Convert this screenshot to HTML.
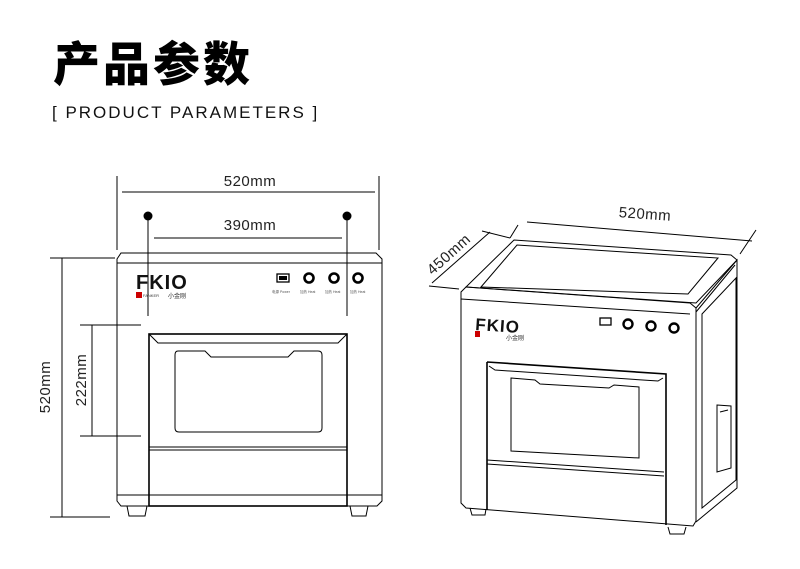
<!DOCTYPE html>
<html><head><meta charset="utf-8"><style>
html,body{margin:0;padding:0;background:#fff;width:800px;height:569px;overflow:hidden}
svg{display:block}
</style></head><body>
<svg width="800" height="569" viewBox="0 0 800 569" xmlns="http://www.w3.org/2000/svg">
<text x="53" y="81" font-family="Liberation Sans, Noto Sans CJK SC, sans-serif" font-size="47" font-weight="900" letter-spacing="3" fill="#000">产品参数</text>
<text x="52" y="118" font-family="Liberation Sans, sans-serif" font-size="17" letter-spacing="2" fill="#111">[ PRODUCT PARAMETERS ]</text>

<g stroke="#000" stroke-width="1" fill="none">
<!-- front dims -->
<line x1="117" y1="176" x2="117" y2="250"/><line x1="379" y1="176" x2="379" y2="250"/>
<line x1="122" y1="192" x2="375" y2="192"/>
<line x1="154" y1="238" x2="342" y2="238"/>
<line x1="148" y1="216" x2="148" y2="316"/><line x1="347" y1="216" x2="347" y2="316"/>
<line x1="62" y1="258" x2="62" y2="517"/><line x1="50" y1="258" x2="115" y2="258"/><line x1="50" y1="517" x2="110" y2="517"/>
<line x1="92" y1="325" x2="92" y2="436"/><line x1="80" y1="325" x2="141" y2="325"/><line x1="80" y1="436" x2="141" y2="436"/>
<!-- front body -->
<path d="M121 253 H376 L382 259 V501 L377 506 H121 L117 501 V259 Z"/>
<line x1="117" y1="263" x2="382" y2="263"/>
<line x1="117" y1="495" x2="382" y2="495"/>
<rect x="149" y="334" width="198" height="172" stroke-width="1.6"/>
<path d="M149 334 L158 343 H338 L347 334"/>
<line x1="149" y1="447" x2="347" y2="447"/>
<line x1="149" y1="450" x2="347" y2="450"/>
<path d="M178 351 H205 L211 357 H288 L294 351 H318 Q322 351 322 355 V428 Q322 432 318 432 H179 Q175 432 175 428 V355 Q175 351 178 351 Z"/>
<path d="M127 506 L129 516 H145 L147 506"/><path d="M350 506 L352 516 H366 L368 506"/>
<!-- 3D dims -->
<line x1="527" y1="222" x2="752" y2="241"/>
<line x1="518" y1="225" x2="510" y2="238"/>
<line x1="756" y1="230" x2="740" y2="254"/>
<line x1="432" y1="283" x2="490" y2="232"/>
<line x1="482" y1="231" x2="510" y2="238"/>
<line x1="429" y1="286" x2="459" y2="289"/>
<!-- 3D body -->
<path d="M466 287 L514 240 L731 255 L737 260 L696 303 Z"/>
<path d="M481 287 L517 245 L718 258 L688 294 Z"/>
<path d="M466 287 L461 292 V503 L466 508 L693 526 L696 521 V308 L690 303 Z"/>
<line x1="461" y1="299" x2="690" y2="314"/>
<path d="M696 308 L737 260 V488 L696 522"/>
<path d="M696 312 L735 265"/>
<path d="M702 314 L736 278 V480 L702 508 Z"/>
<path d="M717 405 L731 406 V468 L717 472 Z"/>
<line x1="720" y1="412" x2="728" y2="410"/>
<path d="M487 362 L666 374 V525 M487 362 V510" stroke-width="1.6"/>
<path d="M489 366 L495 370 L658 381 L663 378"/>
<path d="M511 378 L535 380 L540 384 L609 388 L614 385 L639 387 V458 L511 451 Z"/>
<line x1="487" y1="460" x2="664" y2="472"/>
<line x1="487" y1="464" x2="664" y2="476"/>
<path d="M470 508 L472 515 H485 L486 509"/><path d="M668 527 L670 534 H684 L686 527"/>
</g>
<circle cx="148" cy="216" r="4.5" fill="#000"/><circle cx="347" cy="216" r="4.5" fill="#000"/>

<g font-family="Liberation Sans, sans-serif" fill="#222" font-size="15" letter-spacing="0.5">
<text x="250" y="186" text-anchor="middle">520mm</text>
<text x="250" y="230" text-anchor="middle">390mm</text>
<text transform="translate(50 387) rotate(-90)" text-anchor="middle">520mm</text>
<text transform="translate(86 380) rotate(-90)" text-anchor="middle">222mm</text>
<text x="645" y="219" text-anchor="middle" transform="rotate(4 645 214)">520mm</text>
<text transform="translate(452 258) rotate(-42)" text-anchor="middle">450mm</text>
</g>

<!-- front panel details -->
<text x="136" y="289" font-family="Liberation Sans, sans-serif" font-weight="bold" font-size="20" fill="#111" letter-spacing="1">FKIO</text>
<rect x="136" y="292" width="6" height="6" fill="#c00"/>
<text x="143" y="297" font-family="Liberation Sans, sans-serif" font-size="4" fill="#333">FANKER</text>
<text x="168" y="298" font-family="Noto Sans CJK SC, sans-serif" font-size="6" fill="#222">小金刚</text>
<rect x="277" y="274" width="12" height="8" fill="none" stroke="#000" stroke-width="1.3"/>
<rect x="279" y="276" width="8" height="4" fill="#000"/>
<g fill="none" stroke="#000" stroke-width="2.6"><circle cx="309" cy="278" r="4.5"/><circle cx="334" cy="278" r="4.5"/><circle cx="358" cy="278" r="4.5"/></g>
<g font-size="3.5" fill="#555" font-family="Liberation Sans, sans-serif"><text x="272" y="293">电源 Power</text><text x="300" y="293">加热 Heat</text><text x="325" y="293">加热 Heat</text><text x="350" y="293">加热 Heat</text></g>

<!-- 3D panel details -->
<text x="475" y="330" font-family="Liberation Sans, sans-serif" font-weight="bold" font-size="17" fill="#111" letter-spacing="1" transform="rotate(3.8 475 330)">FKIO</text>
<rect x="475" y="331" width="5" height="6" fill="#c00"/>
<text x="506" y="340" font-family="Noto Sans CJK SC, sans-serif" font-size="6" fill="#222">小金刚</text>
<rect x="600" y="318" width="11" height="7" fill="none" stroke="#000" stroke-width="1.3"/>
<g fill="none" stroke="#000" stroke-width="2.4"><circle cx="628" cy="324" r="4.5"/><circle cx="651" cy="326" r="4.5"/><circle cx="674" cy="328" r="4.5"/></g>
</svg>
</body></html>
